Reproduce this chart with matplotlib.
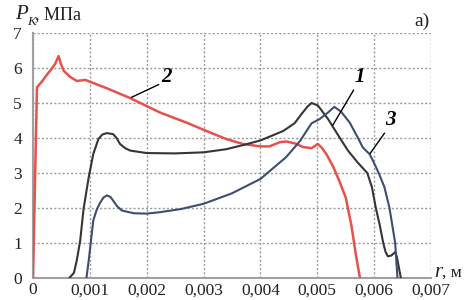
import matplotlib
matplotlib.use("Agg")
import matplotlib.pyplot as plt

# ---- data ----
red_x = [0, 0.00007, 0.00016, 0.00025, 0.00033, 0.00039, 0.00045, 0.00049, 0.00054, 0.00065,
         0.00077, 0.00092, 0.00130, 0.00171, 0.00223, 0.00270, 0.00311, 0.00340, 0.00369,
         0.00400, 0.00416, 0.00434, 0.00446, 0.00462, 0.00475, 0.00490, 0.00501, 0.00508,
         0.00516, 0.00528, 0.00538, 0.00550, 0.00560, 0.00568, 0.00575]
red_y = [0, 5.45, 5.62, 5.82, 5.98, 6.12, 6.34, 6.12, 5.92, 5.75,
         5.63, 5.66, 5.42, 5.14, 4.73, 4.44, 4.16, 3.97, 3.83,
         3.76, 3.76, 3.88, 3.90, 3.84, 3.74, 3.71, 3.83, 3.72,
         3.54, 3.18, 2.80, 2.30, 1.50, 0.65, 0]

black_x = [0.00064, 0.00072, 0.00077, 0.00083, 0.00089, 0.00098, 0.00106, 0.00115, 0.00122,
           0.00130, 0.00141, 0.00147, 0.00153, 0.00162, 0.00171, 0.00200, 0.00250, 0.00300,
           0.00340, 0.00370, 0.00400, 0.00440, 0.00460, 0.00473, 0.00483, 0.00490, 0.00501,
           0.00519, 0.00539, 0.00554, 0.00571, 0.00588, 0.00596, 0.00603, 0.00610, 0.00616,
           0.00620, 0.00624, 0.00630, 0.00637, 0.00640, 0.00647]
black_y = [0, 0.15, 0.50, 1.07, 1.98, 2.88, 3.54, 3.97, 4.10,
           4.14, 4.11, 4.00, 3.83, 3.71, 3.64, 3.57, 3.56, 3.59,
           3.68, 3.80, 3.93, 4.20, 4.42, 4.70, 4.90, 5.00, 4.93,
           4.54, 4.02, 3.64, 3.30, 3.00, 2.60, 2.00, 1.50, 1.00,
           0.75, 0.62, 0.64, 0.74, 0.60, 0]

blue_x = [0.00094, 0.00098, 0.00102, 0.00106, 0.00112, 0.00118, 0.00124, 0.00130, 0.00136,
          0.00141, 0.00148, 0.00156, 0.00177, 0.00200, 0.00223, 0.00260, 0.00300, 0.00350,
          0.00400, 0.00445, 0.00470, 0.00481, 0.00490, 0.00504, 0.00519, 0.00530, 0.00542,
          0.00557, 0.00571, 0.00580, 0.00592, 0.00598, 0.00608, 0.00618, 0.00627, 0.00633,
          0.00637, 0.00641]
blue_y = [0, 0.50, 1.07, 1.64, 1.95, 2.15, 2.30, 2.36, 2.32,
          2.21, 2.05, 1.93, 1.85, 1.84, 1.88, 1.97, 2.12, 2.42,
          2.83, 3.45, 3.92, 4.20, 4.42, 4.54, 4.73, 4.89, 4.75,
          4.44, 4.02, 3.73, 3.54, 3.35, 3.00, 2.60, 2.00, 1.40,
          1.00, 0]

x_ticks = [0, 0.001, 0.002, 0.003, 0.004, 0.005, 0.006, 0.007]
x_labels = ["0", "0,001", "0,002", "0,003", "0,004", "0,005", "0,006", "0,007"]
y_ticks = [0, 1, 2, 3, 4, 5, 6, 7]
y_labels = ["0", "1", "2", "3", "4", "5", "6", "7"]

RED = "#e8504c"
BLACK = "#353535"
BLUE = "#3e4d72"
TXT = "#222222"

plt.rcParams['font.family'] = ['Liberation Serif', 'DejaVu Serif']
fig = plt.figure(figsize=(4.73, 3.0), dpi=100)
ax = fig.add_axes([33/473, 22/300, (431-33)/473, (278-33)/300])

ax.plot(red_x, red_y, color=RED, lw=1.8, zorder=3)
ax.plot(black_x, black_y, color=BLACK, lw=1.5, zorder=3)
ax.plot(blue_x, blue_y, color=BLUE, lw=1.5, zorder=3)

ax.set_xlim(0, 0.007)
ax.set_ylim(0, 7)
ax.set_xticks(x_ticks)
ax.set_xticklabels(x_labels)
ax.set_yticks(y_ticks)
ax.set_yticklabels(y_labels)
ax.tick_params(axis='both', length=0, labelsize=12.5, colors=TXT)
ax.tick_params(axis='x', pad=3)
ax.tick_params(axis='y', pad=8)

ax.grid(True, color='#9a9a9a', linestyle=(0, (1.5, 1.5)), lw=1.0, zorder=1)
for s in ['top', 'right']:
    ax.spines[s].set_visible(False)
for s in ['left', 'bottom']:
    ax.spines[s].set_color('#a0a0a0')
    ax.spines[s].set_linewidth(1.5)

def px(x, y):
    return x / 473, 1 - y / 300

# axis titles
fig.text(*px(15, 19), "P", fontsize=15, fontstyle='italic', va='baseline', ha='left', color=TXT)
fig.text(*px(27, 25), "K", fontsize=9.5, fontstyle='italic', va='baseline', ha='left', color=TXT)
fig.text(*px(35, 19), ", МПа", fontsize=13, va='baseline', ha='left', color=TXT)
fig.text(*px(434, 277), "r", fontsize=15, fontstyle='italic', va='baseline', ha='left', color=TXT)
fig.text(*px(442, 277), ", м", fontsize=12.5, va='baseline', ha='left', color=TXT)
fig.text(*px(430, 26), "а)", fontsize=14, va='baseline', ha='right', color=TXT)

# curve labels
ax.annotate("1", xy=(0.00527, 4.36), xytext=(0.00565, 5.45), fontsize=15,
            fontweight='bold', fontstyle='italic', ha='left', va='bottom',
            arrowprops=dict(arrowstyle='-', color='black', lw=1.0, shrinkA=0, shrinkB=0,
                            relpos=(0.1, 0.0)))
ax.annotate("2", xy=(0.00173, 5.16), xytext=(0.00226, 5.45), fontsize=15,
            fontweight='bold', fontstyle='italic', ha='left', va='bottom',
            arrowprops=dict(arrowstyle='-', color='black', lw=1.0, shrinkA=0, shrinkB=0,
                            relpos=(0.0, 0.2)))
ax.annotate("3", xy=(0.00593, 3.56), xytext=(0.00620, 4.22), fontsize=15,
            fontweight='bold', fontstyle='italic', ha='left', va='bottom',
            arrowprops=dict(arrowstyle='-', color='black', lw=1.0, shrinkA=0, shrinkB=0,
                            relpos=(0.1, 0.0)))

fig.savefig("out.png", dpi=100)
